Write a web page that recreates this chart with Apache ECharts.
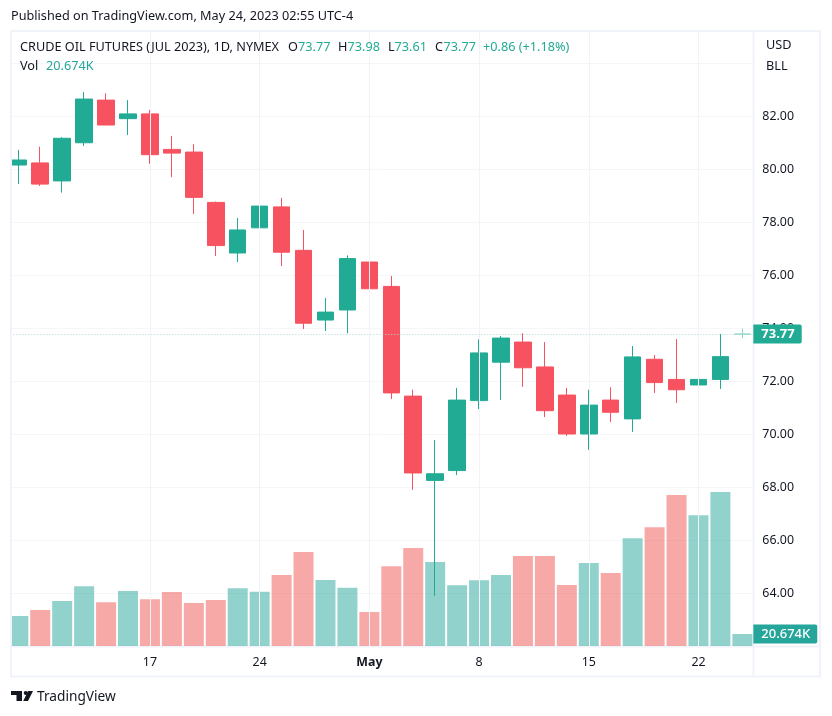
<!DOCTYPE html>
<html>
<head>
<meta charset="utf-8">
<title>Crude oil futures</title>
<script src="https://cdn.jsdelivr.net/npm/echarts@6/dist/echarts.min.js"></script>
<style>
    html, body { margin: 0; padding: 0; background: #fff; }
    #main { width: 832px; height: 716px; }
</style>
</head>
<body>
<div id="main"></div>
<script>
(function(){
    "use strict";

    var UP = '#22AB94', DOWN = '#F7525F';
    var TXT = '#131722', LINE = '#F0F3FA';
    var FONT = '"Noto Sans", sans-serif';

    // date, open, close, low, high, volume (K)
    var rows = [
        ['04-07', 80.15, 80.34, 79.43, 80.72, 51.7],
        ['04-10', 80.23, 79.43, 79.36, 80.84, 62.0],
        ['04-11', 79.55, 81.16, 79.11, 81.20, 77.5],
        ['04-12', 80.99, 82.64, 80.87, 82.91, 102.9],
        ['04-13', 82.60, 81.66, 81.66, 82.86, 75.3],
        ['04-14', 81.90, 82.08, 81.28, 82.60, 94.8],
        ['04-17', 82.08, 80.54, 80.20, 82.23, 80.5],
        ['04-18', 80.74, 80.60, 79.69, 81.25, 93.0],
        ['04-19', 80.64, 78.93, 78.30, 80.94, 74.1],
        ['04-20', 78.74, 77.11, 76.72, 78.77, 79.3],
        ['04-21', 76.83, 77.70, 76.49, 78.15, 99.4],
        ['04-24', 77.78, 78.60, 76.57, 79.02, 93.6],
        ['04-25', 78.57, 76.86, 76.34, 78.91, 122.3],
        ['04-26', 76.93, 74.18, 73.96, 77.70, 162.0],
        ['04-27', 74.30, 74.60, 73.88, 75.13, 113.7],
        ['04-28', 74.68, 76.62, 73.80, 76.74, 100.5],
        ['05-01', 76.49, 75.48, 74.40, 76.49, 58.6],
        ['05-02', 75.57, 71.55, 71.32, 75.96, 137.3],
        ['05-03', 71.43, 68.53, 67.89, 71.67, 168.9],
        ['05-04', 68.25, 68.50, 63.89, 69.77, 144.7],
        ['05-05', 68.62, 71.28, 68.45, 71.74, 104.6],
        ['05-08', 71.26, 73.06, 70.94, 73.57, 113.2],
        ['05-09', 72.71, 73.62, 71.28, 73.70, 122.3],
        ['05-10', 73.47, 72.50, 71.78, 73.80, 155.1],
        ['05-11', 72.53, 70.88, 70.64, 73.47, 155.1],
        ['05-12', 71.47, 70.00, 69.92, 71.74, 105.1],
        ['05-15', 70.00, 71.09, 69.40, 71.67, 143.0],
        ['05-16', 71.28, 70.82, 70.45, 71.76, 125.8],
        ['05-17', 70.57, 72.91, 70.08, 73.32, 185.6],
        ['05-18', 72.82, 71.94, 71.55, 72.98, 204.5],
        ['05-19', 72.06, 71.67, 71.17, 73.58, 260.2],
        ['05-22', 71.85, 72.06, 70.68, 72.53, 225.2],
        ['05-23', 72.06, 72.92, 71.70, 73.77, 265.3],
        ['05-24', 73.77, 73.77, 73.61, 73.98, 20.674]
    ];

    var dates = rows.map(function(r){ return r[0]; });
    var ohlc = rows.map(function(r, i){
        var item = { value: [r[1], r[2], r[3], r[4]] };
        // the last session is a thin doji, it shows pale in the original
        if (i === rows.length - 1) {
            item.itemStyle = { color: '#8FD5C9', borderColor: '#8FD5C9' };
        }
        return item;
    });
    var vols = rows.map(function(r){
        return {
            value: r[5],
            itemStyle: { color: r[2] >= r[1] ? 'rgba(38,166,154,0.5)' : 'rgba(239,83,80,0.5)' }
        };
    });

    var labelled = ['04-17', '04-24', '05-01', '05-08', '05-15', '05-22'];

    function txt(x, y, s, color, size, extra){
        var st = { x: x, y: y, text: s, fill: color || TXT, font: (size || 12.7) + 'px ' + FONT, verticalAlign: 'middle' };
        return { type: 'text', z: 50, style: Object.assign(st, extra || {}) };
    }

    function rect(x, y, w, h, fill, z){
        return { type: 'rect', z: z, silent: true, shape: { x: x, y: y, width: w, height: h }, style: { fill: fill } };
    }

    var graphic = [
        // mask for the candle cut off on the left, then the frame
        rect(0, 31, 10, 625, '#fff', 40),
        rect(10, 30, 810, 2, LINE, 41),
        rect(10, 30, 2, 647, LINE, 41),
        rect(819, 30, 2, 647, LINE, 41),
        rect(10, 675.5, 811, 2, LINE, 41),
        rect(752.5, 30, 2, 647, LINE, 1),
        rect(10, 645.5, 811, 2, LINE, 1),

        txt(11, 16.5, 'Published on TradingView.com, May 24, 2023 02:55 UTC-4'),
        txt(20, 47, 'CRUDE OIL FUTURES (JUL 2023), 1D, NYMEX'),
        txt(288, 47, 'O'), txt(298, 47, '73.77', UP),
        txt(338, 47, 'H'), txt(347.5, 47, '73.98', UP),
        txt(388, 47, 'L'), txt(394.5, 47, '73.61', UP),
        txt(435, 47, 'C'), txt(443.5, 47, '73.77', UP),
        txt(483, 47, '+0.86 (+1.18%)', UP),
        txt(20, 66, 'Vol'),
        txt(46, 66, '20.674K', '#26A69A'),
        txt(766, 45, 'USD'),
        txt(766, 66, 'BLL'),

        // logo
        { type: 'polygon', z: 50, shape: { points: [[11, 691], [22, 691], [22, 701], [16.5, 701], [16.5, 695], [11, 695]] }, style: { fill: TXT } },
        { type: 'circle', z: 50, shape: { cx: 25.8, cy: 693, r: 2.1 }, style: { fill: TXT } },
        { type: 'polygon', z: 50, shape: { points: [[28.2, 691], [33, 691], [28, 701], [23.2, 701]] }, style: { fill: TXT } },
        txt(37, 697, 'TradingView', TXT, 13.7)
    ];

    var myChart = echarts.init(document.getElementById('main'), null, { renderer: 'canvas' });

    var option = {
        animation: false,
        backgroundColor: '#fff',
        textStyle: { fontFamily: FONT },
        graphic: graphic,
        grid: { left: 7.33, top: 31, width: 746, height: 615 },
        xAxis: {
            type: 'category',
            data: dates,
            boundaryGap: true,
            axisLine: { show: false },
            axisTick: { show: false },
            splitLine: { show: false },
            axisLabel: {
                color: TXT,
                fontSize: 12.4,
                fontFamily: FONT,
                margin: 10,
                interval: function(i, v){ return labelled.indexOf(v) >= 0; },
                formatter: function(v){
                    if (v === '05-01') { return '{b|May}'; }
                    return String(parseInt(v.slice(3), 10));
                },
                rich: { b: { fontWeight: 'bold', fontSize: 12.4, color: TXT, fontFamily: FONT } }
            }
        },
        yAxis: [{
            type: 'value',
            position: 'right',
            min: 62,
            max: 85.208,
            interval: 2,
            axisLine: { show: false },
            axisTick: { show: false },
            splitLine: { lineStyle: { color: '#F5F6FA', width: 1 } },
            axisLabel: {
                color: TXT,
                fontSize: 12.4,
                fontFamily: FONT,
                margin: 9,
                padding: [2, 0, 0, 0],
                showMinLabel: false,
                showMaxLabel: false,
                formatter: function(v){ return v >= 84 ? '' : v.toFixed(2); }
            }
        }, {
            type: 'value',
            min: 0,
            max: 1059.6,
            show: false,
            splitLine: { show: false }
        }],
        series: [{
            // vertical grid lines sit on the date labels
            type: 'line',
            data: [],
            z: 0,
            silent: true,
            markLine: {
                silent: true,
                symbol: 'none',
                label: { show: false },
                lineStyle: { color: '#F2F3F6', type: 'solid', width: 1 },
                data: labelled.map(function(d){ return { xAxis: d }; })
            }
        }, {
            type: 'bar',
            name: 'Vol',
            yAxisIndex: 1,
            barWidth: 20,
            z: 1,
            data: vols,
            markLine: {
                silent: true,
                symbol: 'none',
                lineStyle: { color: 'transparent' },
                z: 30,
                data: [{ yAxis: 20.674 }],
                label: {
                    position: 'end',
                    distance: 0,
                    formatter: '20.674K',
                    color: '#fff',
                    opacity: 1,
                    fontSize: 13,
                    fontWeight: 500,
                    fontFamily: FONT,
                    backgroundColor: '#26A69A',
                    borderRadius: [0, 2, 2, 0],
                    padding: [3, 7, 3, 8]
                }
            }
        }, {
            type: 'candlestick',
            name: 'CL',
            barWidth: 17,
            z: 3,
            data: ohlc,
            itemStyle: {
                color: UP,
                color0: DOWN,
                borderColor: UP,
                borderColor0: DOWN,
                borderWidth: 1
            },
            markLine: {
                silent: true,
                symbol: 'none',
                z: 30,
                lineStyle: { color: '#A6DDD3', type: [1, 2], width: 1, opacity: 1 },
                data: [{ yAxis: 73.77 }],
                label: {
                    position: 'end',
                    distance: 0,
                    formatter: '73.77',
                    color: '#fff',
                    opacity: 1,
                    fontSize: 13,
                    fontWeight: 'bold',
                    fontFamily: FONT,
                    backgroundColor: UP,
                    borderRadius: [0, 2, 2, 0],
                    padding: [3, 7, 3, 8]
                }
            }
        }]
    };

    myChart.setOption(option);
})();
</script>
</body>
</html>
